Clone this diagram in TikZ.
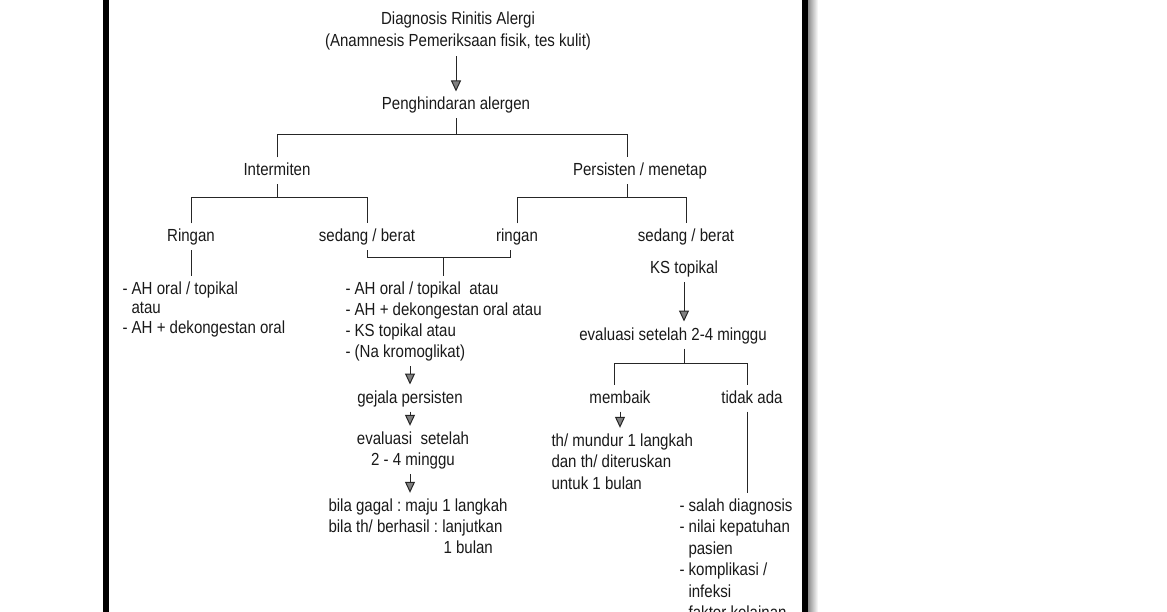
\documentclass[tikz,border=0pt]{standalone}
\usepackage{fontspec}
\setmainfont{Liberation Sans}[FakeStretch=0.86]
\usetikzlibrary{arrows.meta}
\frenchspacing
\newcommand\lbfont{\fontsize{17.5}{21}\selectfont}
\begin{document}
\begin{tikzpicture}[x=1pt, y=-1pt, font=\lbfont, text=black!90,
  >={Triangle[length=11pt, width=10pt, fill=black!50]},
  lbl/.style={anchor=base, inner sep=1.5pt, outer sep=4pt, text height=13pt, text depth=3pt},
  blok/.style={anchor=base west, inner sep=1.5pt, outer sep=4pt, align=left},
  ln/.style={draw=black!85, line width=1pt}]
\useasboundingbox (0,0) rectangle (1167,612);
\fill[black] (103,0) rectangle (109,612);
\fill[black] (802,0) rectangle (808,612);
\shade[left color=black!45, right color=white] (808,0) rectangle (818,612);

\node[blok, anchor=base, align=center, font=\fontsize{17.5}{22}\selectfont] (diag) at (458,47) {Diagnosis Rinitis Alergi\\(Anamnesis Pemeriksaan fisik, tes kulit)};
\node[lbl] (pengh) at (456,110) {Penghindaran alergen};
\node[lbl] (inter) at (277,176) {Intermiten};
\node[lbl] (pers) at (640,176) {Persisten / menetap};
\node[lbl] (ringanA) at (191,242) {Ringan};
\node[lbl] (sedangA) at (367,242) {sedang / berat};
\node[lbl] (ringanB) at (517,242) {ringan};
\node[lbl] (sedangB) at (686,242) {sedang / berat};
\node[lbl] (ks) at (684,274) {KS topikal};
\node[blok, font=\fontsize{17.5}{19.5}\selectfont] (listA) at (117,333) {- AH oral / topikal\\\hspace*{9pt}atau\\- AH + dekongestan oral};
\node[blok] (listB) at (340,357) {- AH oral / topikal\ \ atau\\- AH + dekongestan oral atau\\- KS topikal atau\\- (Na kromoglikat)};
\node[lbl] (gejala) at (410,403) {gejala persisten};
\node[blok, anchor=base, align=center] (evalA) at (413,465) {evaluasi\ \ setelah\\2 - 4 minggu};
\node[blok] (bila) at (323,553) {bila gagal : maju 1 langkah\\bila th/ berhasil : lanjutkan\\\hspace*{115pt}1 bulan};
\node[lbl] (evalB) at (673,340) {evaluasi setelah 2-4 minggu};
\node[lbl] (membaik) at (620,403) {membaik};
\node[lbl] (tidak) at (752,403) {tidak ada};
\node[blok, font=\fontsize{17.5}{21.5}\selectfont] (mundur) at (546,489) {th/ mundur 1 langkah\\dan th/ diteruskan\\untuk 1 bulan};
\node[blok, font=\fontsize{17.5}{21.5}\selectfont] (salah) at (674,618.5) {- salah diagnosis\\- nilai kepatuhan\\\hspace*{9pt}pasien\\- komplikasi /\\\hspace*{9pt}infeksi\\- faktor kelainan};

\coordinate (r1) at (453,135);
\coordinate (kPers) at (627,135);
\coordinate (r2) at (0,198);
\coordinate (r3) at (443,258);
\coordinate (r4) at (683,363);
\coordinate (kMem) at (614,363);
\coordinate (kTid) at (747,363);

\draw[ln,->] (pengh.north |- diag.south) -- (pengh.north);
\draw[ln] (pengh.south) -- (pengh.south |- r1);
\draw[ln] (inter.north) -- (inter.north |- r1) -- (kPers) -- (kPers |- pers.north);
\draw[ln] (inter.south) -- (inter.south |- r2);
\draw[ln] (ringanA.north) -- (ringanA.north |- r2) -- (sedangA.north |- r2) -- (sedangA.north);
\draw[ln] (kPers |- pers.south) -- (kPers |- r2);
\draw[ln] (ringanB.north) -- (ringanB.north |- r2) -- (sedangB.north |- r2) -- (sedangB.north);
\draw[ln] (ringanA.south) -- (ringanA.south |- listA.north);
\draw[ln] (sedangA.south) |- ([xshift=-7pt]ringanB.south |- r3) -- ([xshift=-7pt]ringanB.south);
\draw[ln] (r3) -- (r3 |- listB.north);
\foreach \a/\b in {listB/gejala, gejala/evalA, evalA/bila}
{
    \draw[ln,->] (gejala.south |- \a.south) -- (gejala.south |- \b.north);
}
\draw[ln,->] (ks.south) -- (ks.south |- evalB.north);
\draw[ln] (ks.south |- evalB.south) -- (ks.south |- r4);
\draw[ln] (kMem |- membaik.north) -- (kMem) -- (kTid) -- (kTid |- tidak.north);
\draw[ln,->] (membaik.south) -- (membaik.south |- mundur.north);
\draw[ln] (kTid |- tidak.south) -- (kTid |- salah.north);

\end{tikzpicture}
\end{document}
